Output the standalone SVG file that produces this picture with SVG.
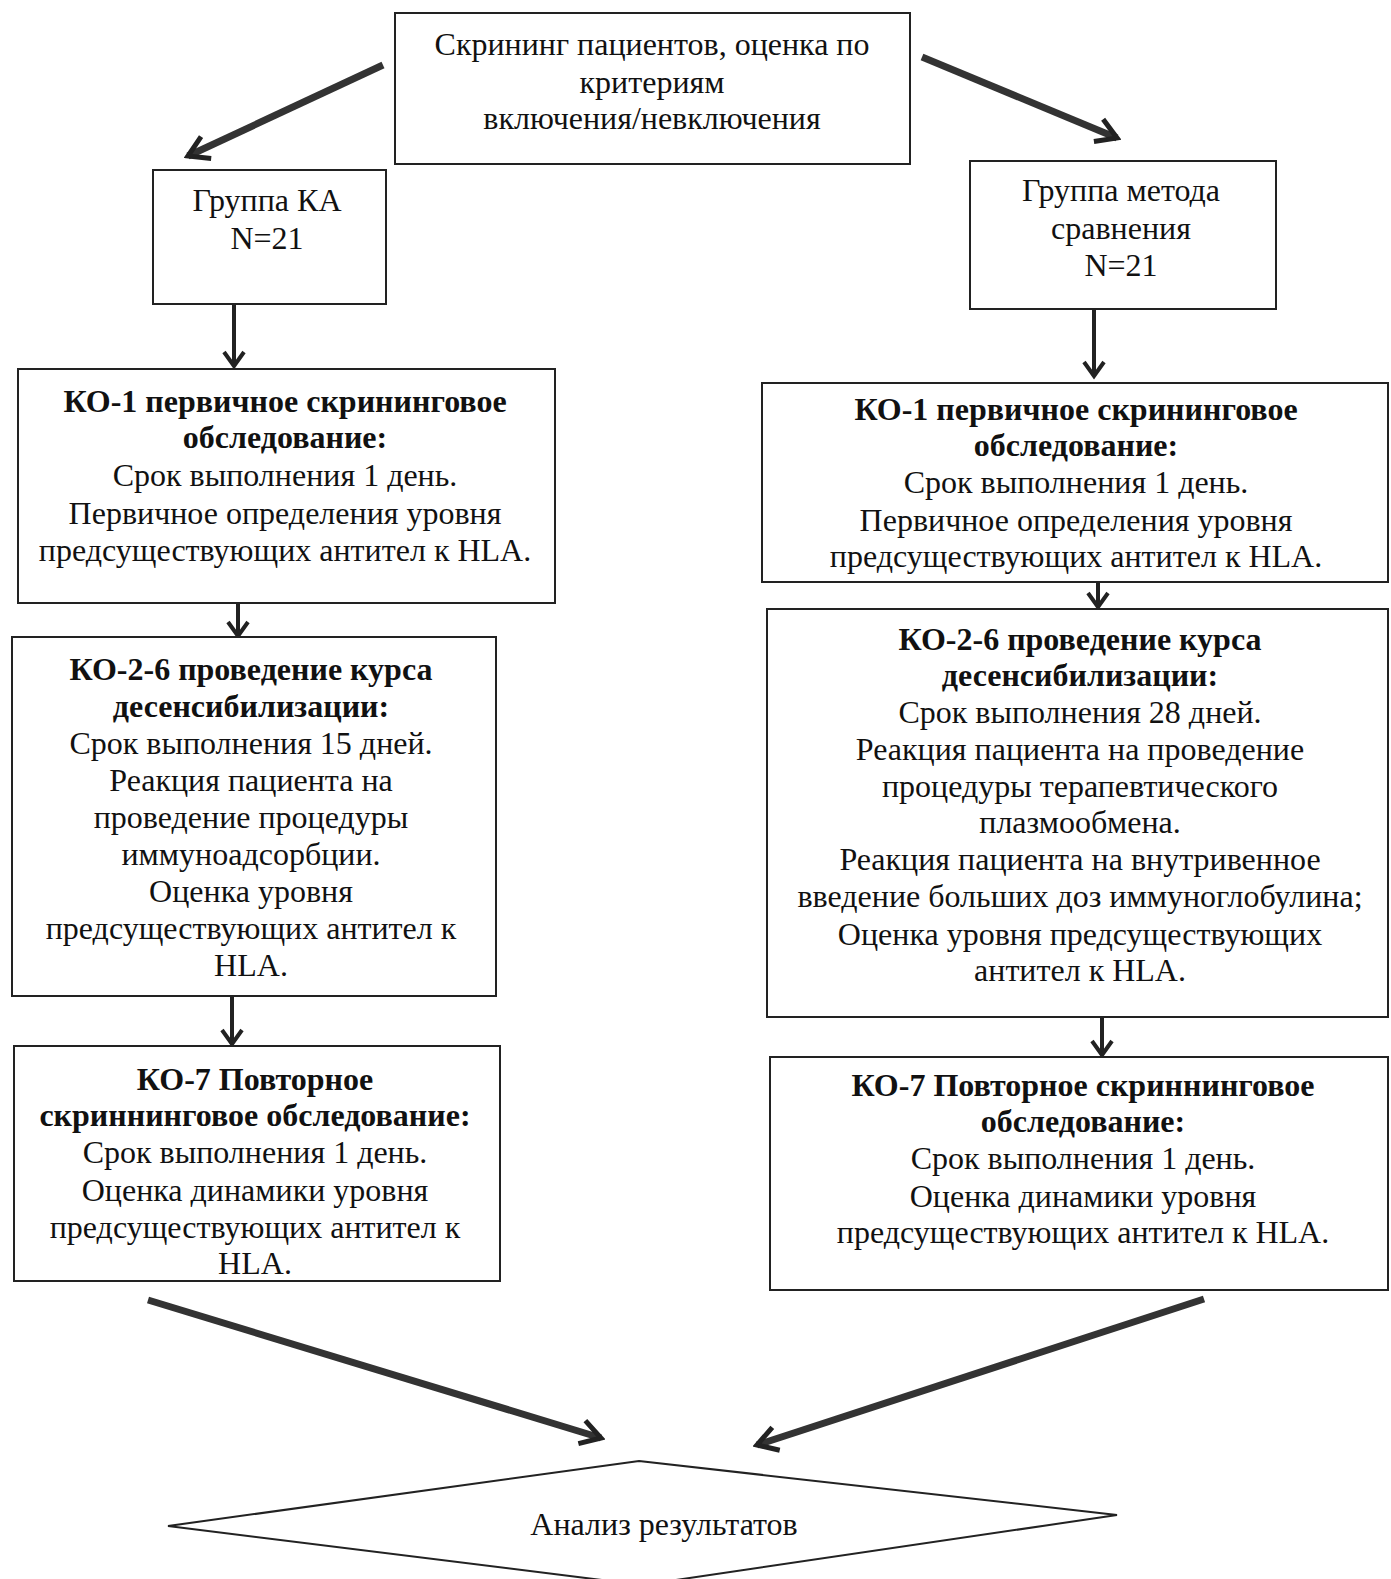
<svg xmlns="http://www.w3.org/2000/svg" width="1391" height="1579" viewBox="0 0 1391 1579">
<defs>
<style>
.box{fill:#fff;stroke:#222;stroke-width:2}
.t{font-family:"Liberation Serif","Times New Roman",serif;font-size:32px;fill:#111;text-anchor:middle}
.b{font-weight:bold}
.v{stroke:#222;stroke-width:4;fill:none}
.d{stroke:#333;stroke-width:7;fill:none;stroke-linecap:butt}
</style>
<marker id="ah" markerUnits="userSpaceOnUse" viewBox="-20 -14 24 28" markerWidth="24" markerHeight="28" refX="0" refY="0" orient="auto">
<path d="M-14,-10 L0,0 L-14,10" fill="none" stroke="#222" stroke-width="4"/>
</marker>
<marker id="ahd" markerUnits="userSpaceOnUse" viewBox="-26 -18 30 36" markerWidth="30" markerHeight="36" refX="0" refY="0" orient="auto">
<path d="M-20,-12 L0,0 L-20,12" fill="none" stroke="#222" stroke-width="5"/>
</marker>
</defs>

<g id="connectors">
<line class="d" x1="383" y1="65" x2="188" y2="156" marker-end="url(#ahd)"/>
<line class="d" x1="922" y1="57" x2="1117" y2="138" marker-end="url(#ahd)"/>
<line class="v" x1="234" y1="305" x2="234" y2="366" marker-end="url(#ah)"/>
<line class="v" x1="1094" y1="310" x2="1094" y2="376" marker-end="url(#ah)"/>
<line class="v" x1="238" y1="604" x2="238" y2="636" marker-end="url(#ah)"/>
<line class="v" x1="1098" y1="583" x2="1098" y2="607" marker-end="url(#ah)"/>
<line class="v" x1="232" y1="997" x2="232" y2="1044" marker-end="url(#ah)"/>
<line class="v" x1="1102" y1="1018" x2="1102" y2="1055" marker-end="url(#ah)"/>
<line class="d" x1="148" y1="1300" x2="601" y2="1438" marker-end="url(#ahd)"/>
<line class="d" x1="1204" y1="1299" x2="757" y2="1445" marker-end="url(#ahd)"/>
</g>

<g id="screening">
<rect class="box" x="395" y="13" width="515" height="151"/>
<text class="t" x="652" y="55">Скрининг пациентов, оценка по</text>
<text class="t" x="652" y="93">критериям</text>
<text class="t" x="652" y="129">включения/невключения</text>
</g>

<g id="group-ka">
<rect class="box" x="153" y="170" width="233" height="134"/>
<text class="t" x="267" y="211">Группа КА</text>
<text class="t" x="267" y="249">N=21</text>
</g>

<g id="group-cmp">
<rect class="box" x="970" y="161" width="306" height="148"/>
<text class="t" x="1121" y="201">Группа метода</text>
<text class="t" x="1121" y="239">сравнения</text>
<text class="t" x="1121" y="276">N=21</text>
</g>

<g id="ko1-left">
<rect class="box" x="18" y="369" width="537" height="234"/>
<text class="t b" x="285" y="412">КО-1 первичное скрининговое</text>
<text class="t b" x="285" y="448">обследование:</text>
<text class="t" x="285" y="486">Срок выполнения 1 день.</text>
<text class="t" x="285" y="524">Первичное определения уровня</text>
<text class="t" x="285" y="561">предсуществующих антител к HLA.</text>
</g>

<g id="ko1-right">
<rect class="box" x="762" y="383" width="626" height="199"/>
<text class="t b" x="1076" y="420">КО-1 первичное скрининговое</text>
<text class="t b" x="1076" y="456">обследование:</text>
<text class="t" x="1076" y="493">Срок выполнения 1 день.</text>
<text class="t" x="1076" y="531">Первичное определения уровня</text>
<text class="t" x="1076" y="567">предсуществующих антител к HLA.</text>
</g>

<g id="ko26-left">
<rect class="box" x="12" y="637" width="484" height="359"/>
<text class="t b" x="251" y="680">КО-2-6 проведение курса</text>
<text class="t b" x="251" y="717">десенсибилизации:</text>
<text class="t" x="251" y="754">Срок выполнения 15 дней.</text>
<text class="t" x="251" y="791">Реакция пациента на</text>
<text class="t" x="251" y="828">проведение процедуры</text>
<text class="t" x="251" y="865">иммуноадсорбции.</text>
<text class="t" x="251" y="902">Оценка уровня</text>
<text class="t" x="251" y="939">предсуществующих антител к</text>
<text class="t" x="251" y="976">HLA.</text>
</g>

<g id="ko26-right">
<rect class="box" x="767" y="609" width="621" height="408"/>
<text class="t b" x="1080" y="650">КО-2-6 проведение курса</text>
<text class="t b" x="1080" y="686">десенсибилизации:</text>
<text class="t" x="1080" y="723">Срок выполнения 28 дней.</text>
<text class="t" x="1080" y="760">Реакция пациента на проведение</text>
<text class="t" x="1080" y="797">процедуры терапевтического</text>
<text class="t" x="1080" y="833">плазмообмена.</text>
<text class="t" x="1080" y="870">Реакция пациента на внутривенное</text>
<text class="t" x="1080" y="907">введение больших доз иммуноглобулина;</text>
<text class="t" x="1080" y="945">Оценка уровня предсуществующих</text>
<text class="t" x="1080" y="981">антител к HLA.</text>
</g>

<g id="ko7-left">
<rect class="box" x="14" y="1046" width="486" height="235"/>
<text class="t b" x="255" y="1090">КО-7 Повторное</text>
<text class="t b" x="255" y="1126">скриннинговое обследование:</text>
<text class="t" x="255" y="1163">Срок выполнения 1 день.</text>
<text class="t" x="255" y="1201">Оценка динамики уровня</text>
<text class="t" x="255" y="1238">предсуществующих антител к</text>
<text class="t" x="255" y="1274">HLA.</text>
</g>

<g id="ko7-right">
<rect class="box" x="770" y="1057" width="618" height="233"/>
<text class="t b" x="1083" y="1096">КО-7 Повторное скриннинговое</text>
<text class="t b" x="1083" y="1132">обследование:</text>
<text class="t" x="1083" y="1169">Срок выполнения 1 день.</text>
<text class="t" x="1083" y="1207">Оценка динамики уровня</text>
<text class="t" x="1083" y="1243">предсуществующих антител к HLA.</text>
</g>

<g id="analysis">
<polygon points="639,1461 1117,1515 642,1585 168,1526" fill="#fff" stroke="#222" stroke-width="2"/>
<text class="t" x="664" y="1535">Анализ результатов</text>
</g>
</svg>
